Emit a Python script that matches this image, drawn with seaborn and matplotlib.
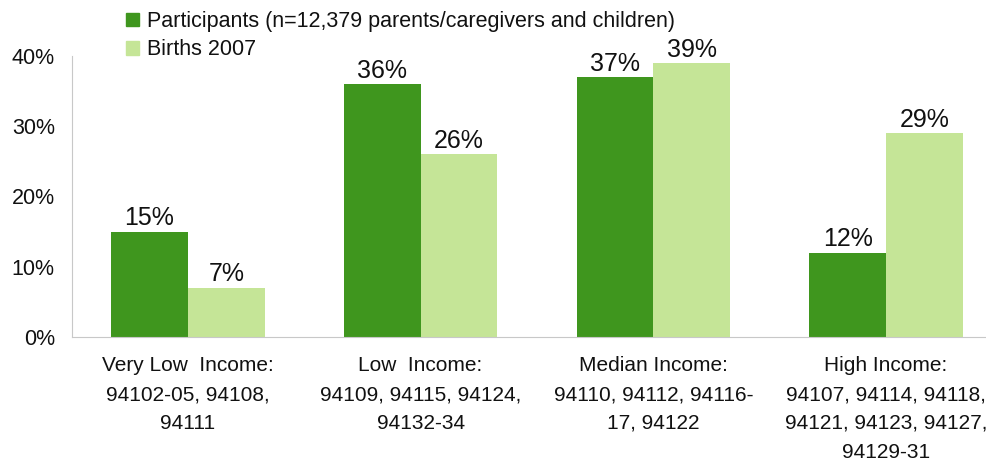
import pandas as pd
import matplotlib.pyplot as plt
import seaborn as sns
from matplotlib.ticker import PercentFormatter
from matplotlib.patches import Patch

# Data
categories = ['Very Low  Income:\n94102-05, 94108,\n94111',
              'Low  Income:\n94109, 94115, 94124,\n94132-34',
              'Median Income:\n94110, 94112, 94116-\n17, 94122',
              'High Income:\n94107, 94114, 94118,\n94121, 94123, 94127,\n94129-31']
participants = [15, 36, 37, 12]
births = [7, 26, 39, 29]
series_names = ['Participants (n=12,379 parents/caregivers and children)', 'Births 2007']
colors = ['#3F961E', '#C5E597']

df = pd.DataFrame({
    'Category': categories * 2,
    'Series': [series_names[0]] * 4 + [series_names[1]] * 4,
    'Value': [v / 100 for v in participants + births],
})

sns.set_style('white')
plt.rcParams['font.family'] = ['Liberation Sans', 'DejaVu Sans']

fig = plt.figure(figsize=(9.87, 4.62), dpi=100)
ax = fig.add_axes([71.5 / 987, 125 / 462, 931 / 987, 281 / 462])

sns.barplot(data=df, x='Category', y='Value', hue='Series',
            palette=colors, width=0.66, saturation=1, linewidth=0,
            ax=ax, legend=False)

for cont, vals in zip(ax.containers, [participants, births]):
    ax.bar_label(cont, labels=[f'{v}%' for v in vals], padding=1,
                 fontsize=18, color='#111111')

ax.set_ylim(0, 0.40)
ax.set_yticks([0, 0.1, 0.2, 0.3, 0.4])
ax.yaxis.set_major_formatter(PercentFormatter(1.0, decimals=0))
ax.set_xlabel('')
ax.set_ylabel('')
ax.tick_params(axis='y', labelsize=15.5, length=5, color='#c8c8c8', width=1, pad=7)
ax.tick_params(axis='x', length=0, pad=14)
for lbl in ax.get_xticklabels():
    lbl.set_fontsize(15)
    lbl.set_linespacing(1.65)
    lbl.set_color('#111111')
for lbl in ax.get_yticklabels():
    lbl.set_color('#111111')

sns.despine(ax=ax, top=True, right=True)
ax.spines['left'].set_color('#c8c8c8')
ax.spines['bottom'].set_color('#c8c8c8')

# Legend
handles = [Patch(color=c) for c in colors]
fig.legend(handles, series_names, loc='upper left', bbox_to_anchor=(111 / 987, 1 + 4 / 462),
           frameon=False, fontsize=15.5, handlelength=0.62, handleheight=0.62,
           handletextpad=0.35, labelspacing=0.33, borderpad=0.2, labelcolor='#111111')

fig.savefig('out.png', dpi=100)
